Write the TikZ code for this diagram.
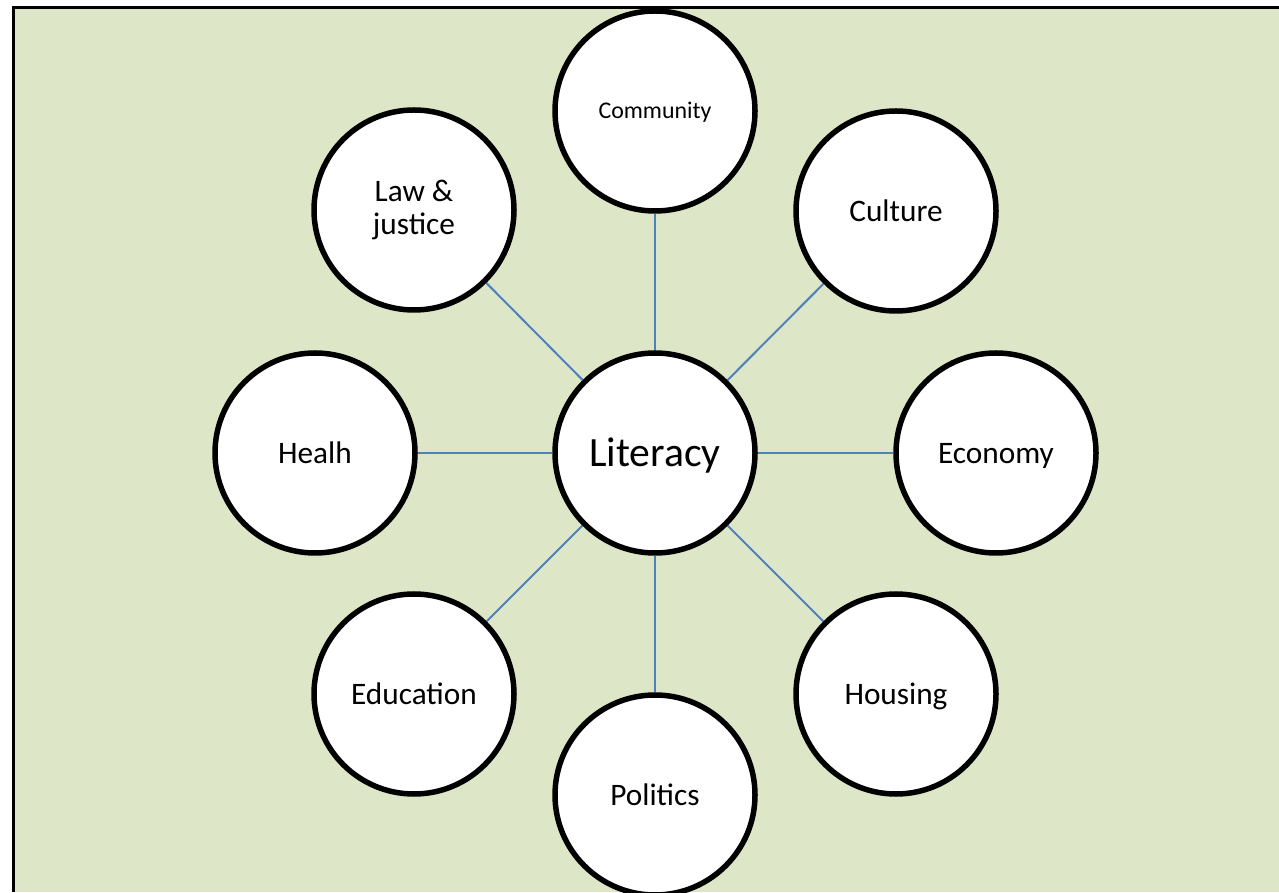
\documentclass[tikz,border=0pt]{standalone}
\usepackage{fontspec}
\setmainfont{Carlito}
\definecolor{bggreen}{RGB}{221,231,200}
\definecolor{linkblue}{RGB}{79,129,189}
\tikzset{
	topic/.style={circle, draw=black, line width=0.11cm, fill=white,
		minimum size=4cm, inner sep=0pt, align=center,
		font=\fontsize{17.8}{18.3}\selectfont},
	oneline/.style={topic, text height=11.5pt, text depth=0pt},
	link/.style={draw=linkblue, line width=0.04cm}
}
\begin{document}
\begin{tikzpicture}
	\useasboundingbox (0,0) rectangle (25.58,17.84);
	% Hintergrund mit Rand links und oben
	\fill[bggreen] (0.276,0) rectangle (25.58,17.694);
	\draw[line width=0.06cm] (0.276,0) -- (0.276,17.694) -- (25.58,17.694);

	% Mitte
	\node[oneline, font=\fontsize{23.7}{28}\selectfont, text height=15.3pt] (lit) at (13.10, 8.78) {Literacy};

	% Themen rundherum
	\node[oneline, font=\fontsize{13.6}{16}\selectfont, text height=8.8pt] (comm) at (13.10, 15.62) {Community};
	\node[oneline] (cult) at (17.92, 13.62) {Culture};
	\node[oneline] (econ) at (19.92, 8.78) {Economy};
	\node[oneline] (hous) at (17.92, 3.96) {Housing};
	\node[oneline] (poli) at (13.10, 1.94) {Politics};
	\node[oneline] (educ) at (8.28, 3.96) {Education};
	\node[oneline] (heal) at (6.30, 8.78) {Healh};
	\node[topic] (law) at (8.28, 13.64) {Law \&\\justice};

	% Verbindungen
	\foreach \t in {comm, cult, econ, hous, poli, educ, heal, law}
		\draw[link] (lit) -- (\t);
\end{tikzpicture}
\end{document}
